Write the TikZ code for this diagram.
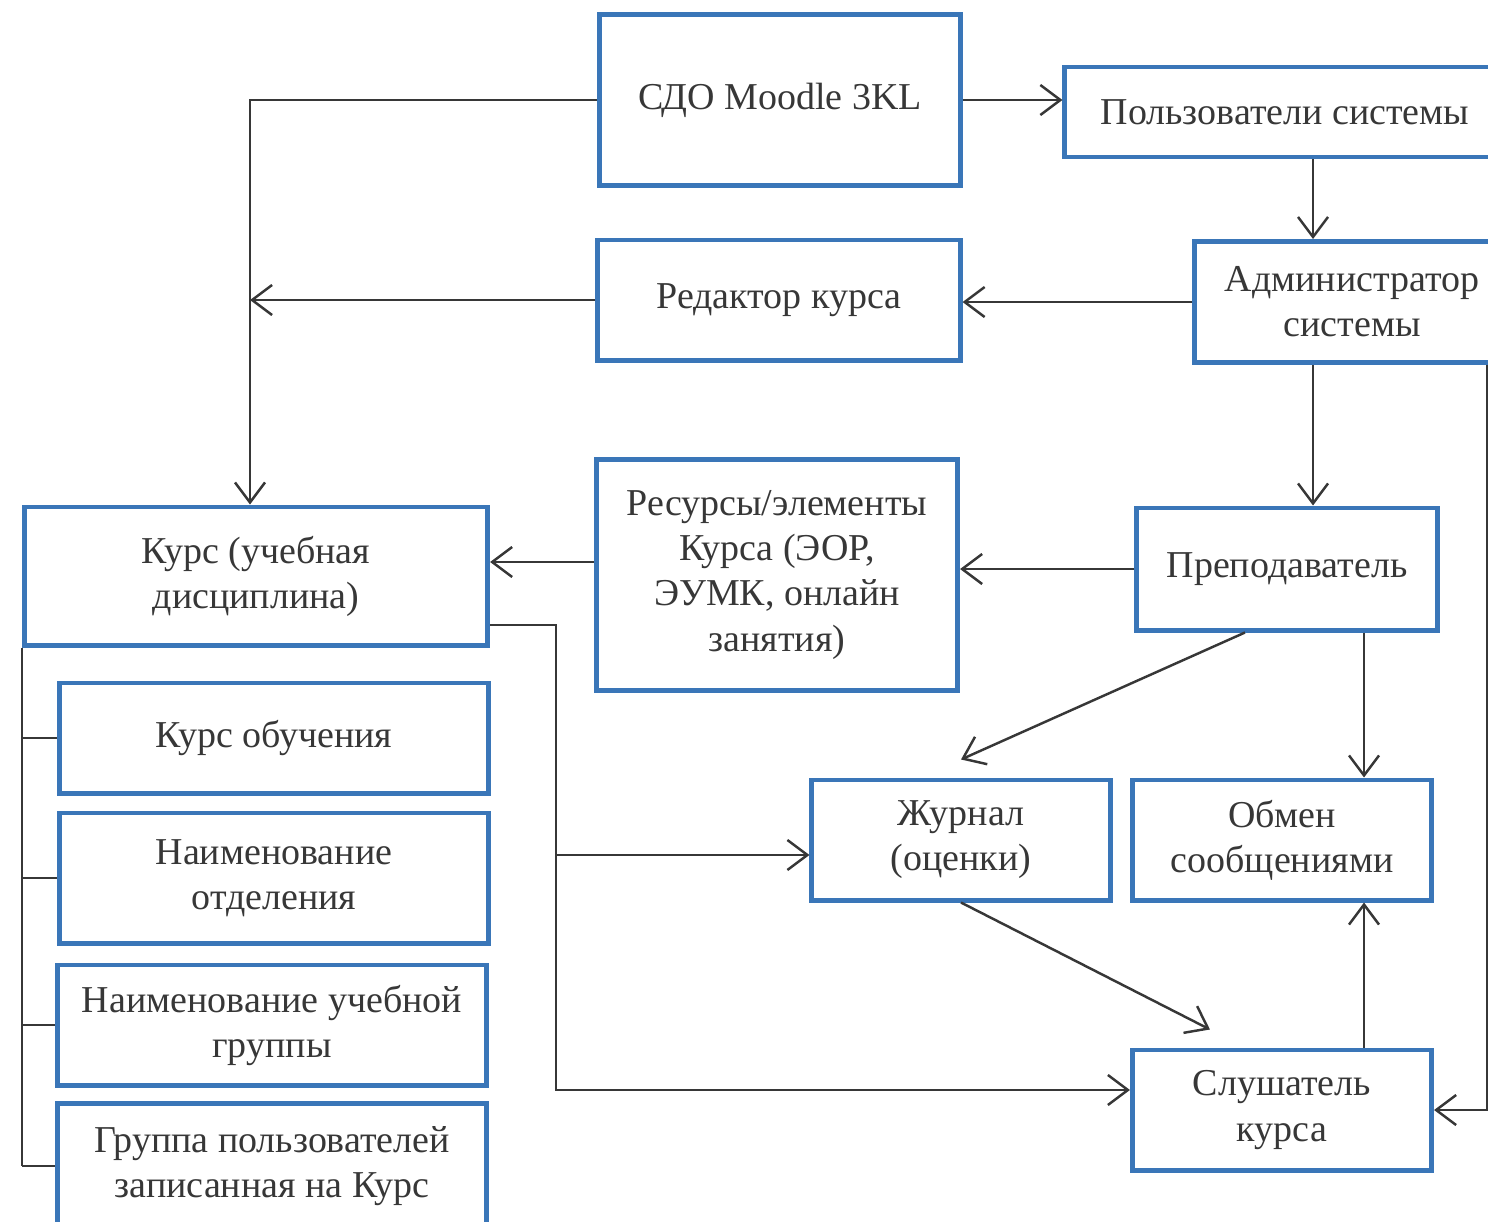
\documentclass[tikz,border=0pt]{standalone}
\usepackage{fontspec}
\setmainfont{Liberation Serif}
\usetikzlibrary{arrows.meta}
\definecolor{boxblue}{RGB}{58,118,184}
\definecolor{ink}{RGB}{55,55,55}
\tikzset{
  unit/.style={draw=boxblue,line width=1.4pt,fill=white,align=center,
    text=ink,font=\fontsize{10.8}{12.8}\selectfont,inner sep=0pt},
  link/.style={draw=ink,line width=0.7pt}
}
\begin{document}
\begin{tikzpicture}[x=0.01cm,y=-0.01cm,>={Straight Barb[length=2mm,width=3mm]}]
        \useasboundingbox (0,0) rectangle (1488,1221);
        \clip (0,0) rectangle (1488,1221);

        % Top row
        \node[unit,minimum width=3.6cm,minimum height=1.7cm] (sdo) at (780,100) {СДО Moodle 3KL};
        \node[unit,minimum width=4.4cm,minimum height=0.9cm] (users) at (1285,112) {Пользователи системы};
        \node[unit,minimum width=3.62cm,minimum height=1.2cm] (editor) at (779,300) {Редактор курса};
        \node[unit,minimum width=3.14cm,minimum height=1.21cm] (admin) at (1352,302) {Администратор\\системы};

        % Middle row
        \node[unit,minimum width=4.63cm,minimum height=1.38cm] (course) at (256,576) {Курс (учебная\\дисциплина)};
        \node[unit,minimum width=3.61cm,minimum height=2.3cm] (res) at (777,575) {Ресурсы/элементы\\Курса (ЭОР,\\ЭУМК, онлайн\\занятия)};
        \node[unit,minimum width=3cm,minimum height=1.22cm] (teacher) at (1287,569) {Преподаватель};

        % Course parts
        \node[unit,minimum width=4.28cm,minimum height=1.1cm] (c1) at (274,738) {Курс обучения};
        \node[unit,minimum width=4.28cm,minimum height=1.3cm] (c2) at (274,878) {Наименование\\отделения};
        \node[unit,minimum width=4.28cm,minimum height=1.2cm] (c3) at (272,1025) {Наименование учебной\\группы};
        \node[unit,minimum width=4.28cm,minimum height=1.25cm] (c4) at (272,1166) {Группа пользователей\\записанная на Курс};

        % Lower right
        \node[unit,minimum width=2.98cm,minimum height=1.2cm] (journal) at (961,840) {Журнал\\(оценки)};
        \node[unit,minimum width=2.99cm,minimum height=1.2cm] (msg) at (1282,840) {Обмен\\сообщениями};
        \node[unit,minimum width=2.99cm,minimum height=1.2cm] (listener) at (1282,1110) {Слушатель\\курса};

        % Helper lines
        \coordinate (vx) at (250,0);
        \coordinate (vl) at (1313,0);
        \coordinate (vr) at (1364,0);
        \coordinate (edge) at (1487,0);
        \coordinate (tree) at (22,0);
        \coordinate (bend) at (556,625);
        \coordinate (bend2) at (556,1090);
        \coordinate (jy) at (556,855);

        % Connectors
        \draw[link,->] (sdo.west) -| (course.north -| vx);
        \draw[link,->] (editor.west) -- (editor.west -| vx);
        \draw[link,->] (sdo.east) -- (sdo.east -| users.west);
        \draw[link,->] (users.south -| vl) -- (admin.north -| vl);
        \draw[link,->] (admin.west) -- (admin.west -| editor.east);
        \draw[link,->] (admin.south -| vl) -- (teacher.north -| vl);
        \draw[link,->] (teacher.west) -- (teacher.west -| res.east);
        \draw[link,->] ([yshift=0.13cm]res.west) -- ([yshift=0.13cm]res.west -| course.east);
        \draw[link,->] ([xshift=-0.42cm]teacher.south) -- ([yshift=0.18cm]journal.north);
        \draw[link,->] (teacher.south -| vr) -- (msg.north -| vr);
        \draw[link,->] (journal.south) -- ([xshift=-0.72cm,yshift=0.18cm]listener.north);
        \draw[link,->] (listener.north -| vr) -- (msg.south -| vr);
        \draw[link,->] (course.east |- bend) -- (bend) -- (bend2) -- (bend2 -| listener.west);
        \draw[link,->] (jy) -- (jy -| journal.west);
        \draw[link,->] (admin.south -| edge) |- (listener.east);

        % Course tree
        \draw[link] (course.south -| tree) -- (c4.west -| tree);
        \foreach \part in {c1,c2,c3,c4}
          \draw[link] (\part.west -| tree) -- (\part.west);
    \end{tikzpicture}
\end{document}
